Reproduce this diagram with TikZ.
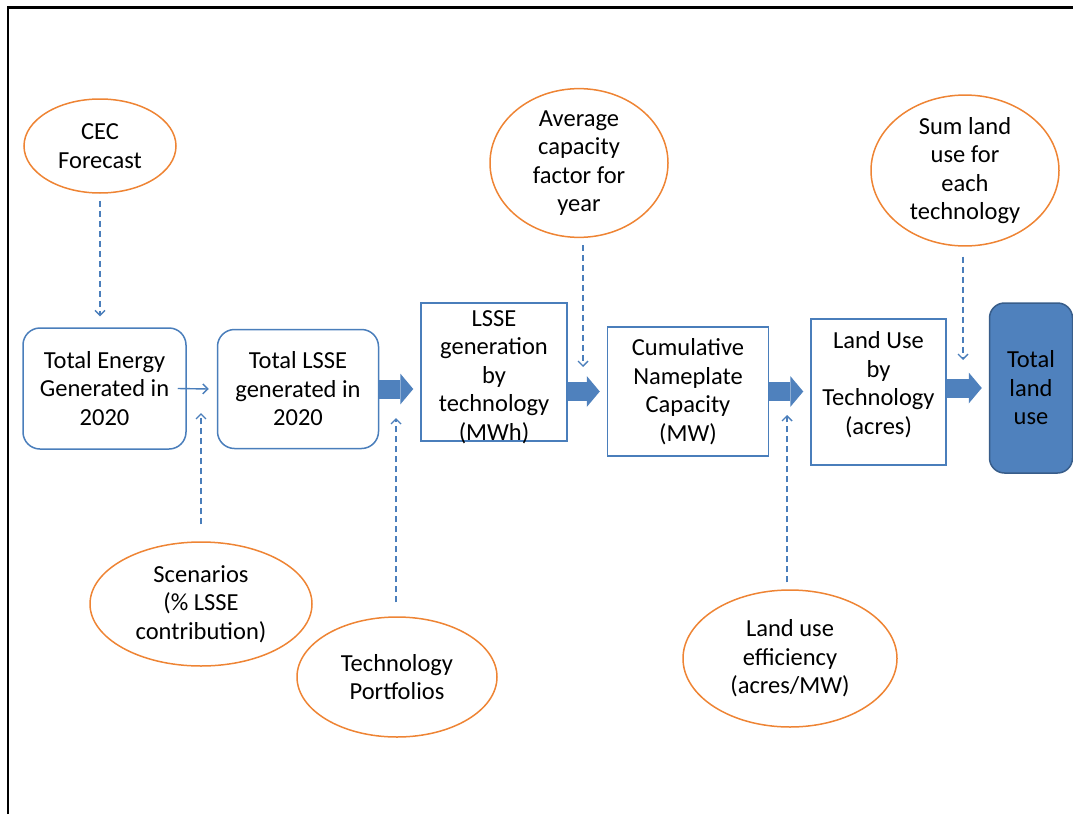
\documentclass[tikz,border=0pt]{standalone}
\usepackage{fontspec}
\setmainfont{Carlito}
\usetikzlibrary{arrows.meta, shapes.geometric}

\definecolor{boxblue}{HTML}{4F81BD}
\definecolor{lineblue}{HTML}{4A7EBB}
\definecolor{darkblue}{HTML}{385D8A}
\definecolor{ovalorange}{HTML}{EE8434}

\begin{document}
\begin{tikzpicture}[x=1pt, y=-1pt,
    every node/.style={font=\fontsize{24.5pt}{28.5pt}\selectfont, align=center, inner sep=0pt},
    roundbox/.style={draw=lineblue, line width=1.5pt, rounded corners=17pt},
    squarebox/.style={draw=lineblue, line width=1.5pt},
    oval/.style={ellipse, draw=ovalorange, line width=1.5pt},
    flow/.style={draw=boxblue, line width=19pt, shorten >=7pt,
      -{Triangle[length=13pt, width=31pt, line width=0pt]}},
    thinflow/.style={draw=lineblue, line width=1.4pt, -{Straight Barb[length=5pt, width=10pt]}},
    dashflow/.style={thinflow, dash pattern=on 6pt off 4pt}]
    \useasboundingbox (0,0) rectangle (1073,814);
    % frame
    \draw[line width=2.4pt] (8,814) -- (8,7.5) -- (1073,7.5);
    % main chain
    \node[roundbox, minimum width=163, minimum height=121] (energy) at (104.5,388.5) {Total Energy\\Generated in\\2020};
    \node[roundbox, minimum width=161, minimum height=119] (lsse) at (298,389) {Total LSSE\\generated in\\2020};
    \node[squarebox, minimum width=146, minimum height=138, text height=137pt, text depth=1pt] (gen) at (494,372) {LSSE\\generation\\by\\technology\\(MWh)};
    \node[squarebox, minimum width=161, minimum height=129] (cap) at (688,391.5) {Cumulative\\Nameplate\\Capacity\\(MW)};
    \node[squarebox, minimum width=135, minimum height=146, text depth=18pt] (land) at (878.5,392) {Land Use\\by\\Technology\\(acres)};
    \node[fill=boxblue, draw=darkblue, line width=1.5pt, rounded corners=15pt,
      minimum width=83, minimum height=170] (total) at (1031,388) {Total\\land\\use};
    % inputs
    \node[oval, minimum width=152, minimum height=94] (cec) at (100,146) {CEC\\Forecast};
    \node[oval, minimum width=178, minimum height=130] (avg) at (579,163) {Average\\capacity\\factor for\\year};
    \node[oval, minimum width=188, minimum height=143] (sum) at (965,170.5) {Sum land\\use for\\each\\technology};
    \node[oval, minimum width=222, minimum height=124] (scen) at (201,604) {Scenarios\\(\% LSSE\\contribution)};
    \node[oval, minimum width=200, minimum height=120] (port) at (397,677) {Technology\\Portfolios};
    \node[oval, minimum width=214, minimum height=137] (eff) at (790,658.5) {Land use\\efficiency\\(acres/MW)};
    % arrows along the chain
    \draw[thinflow] ([xshift=-9pt]energy.east) -- ([xshift=-8pt]lsse.west);
    \draw[flow] (lsse.east) -- (lsse.east -| gen.west);
    \draw[flow] (gen.east |- cap.west) -- (cap.west);
    \draw[flow] (cap.east) -- (cap.east -| land.west);
    \draw[flow] (land.east |- total.west) -- (total.west);
    % dashed inputs
    \coordinate (abtip) at (201,413);
    \coordinate (bctip) at (396,418);
    \coordinate (cdtip) at (583,367);
    \coordinate (detip) at (787,415);
    \coordinate (eftip) at (963,360);
    \draw[dashflow, shorten <=7pt, shorten >=11pt] (cec.south) -- (cec.south |- energy.north);
    \draw[dashflow, shorten <=7pt] (avg.south -| cdtip) -- (cdtip);
    \draw[dashflow, shorten <=10pt] (sum.south -| eftip) -- (eftip);
    \draw[dashflow, shorten <=17pt] (scen.north -| abtip) -- (abtip);
    \draw[dashflow, shorten <=14pt] (port.north -| bctip) -- (bctip);
    \draw[dashflow, shorten <=7pt] (eff.north -| detip) -- (detip);
\end{tikzpicture}
\end{document}
